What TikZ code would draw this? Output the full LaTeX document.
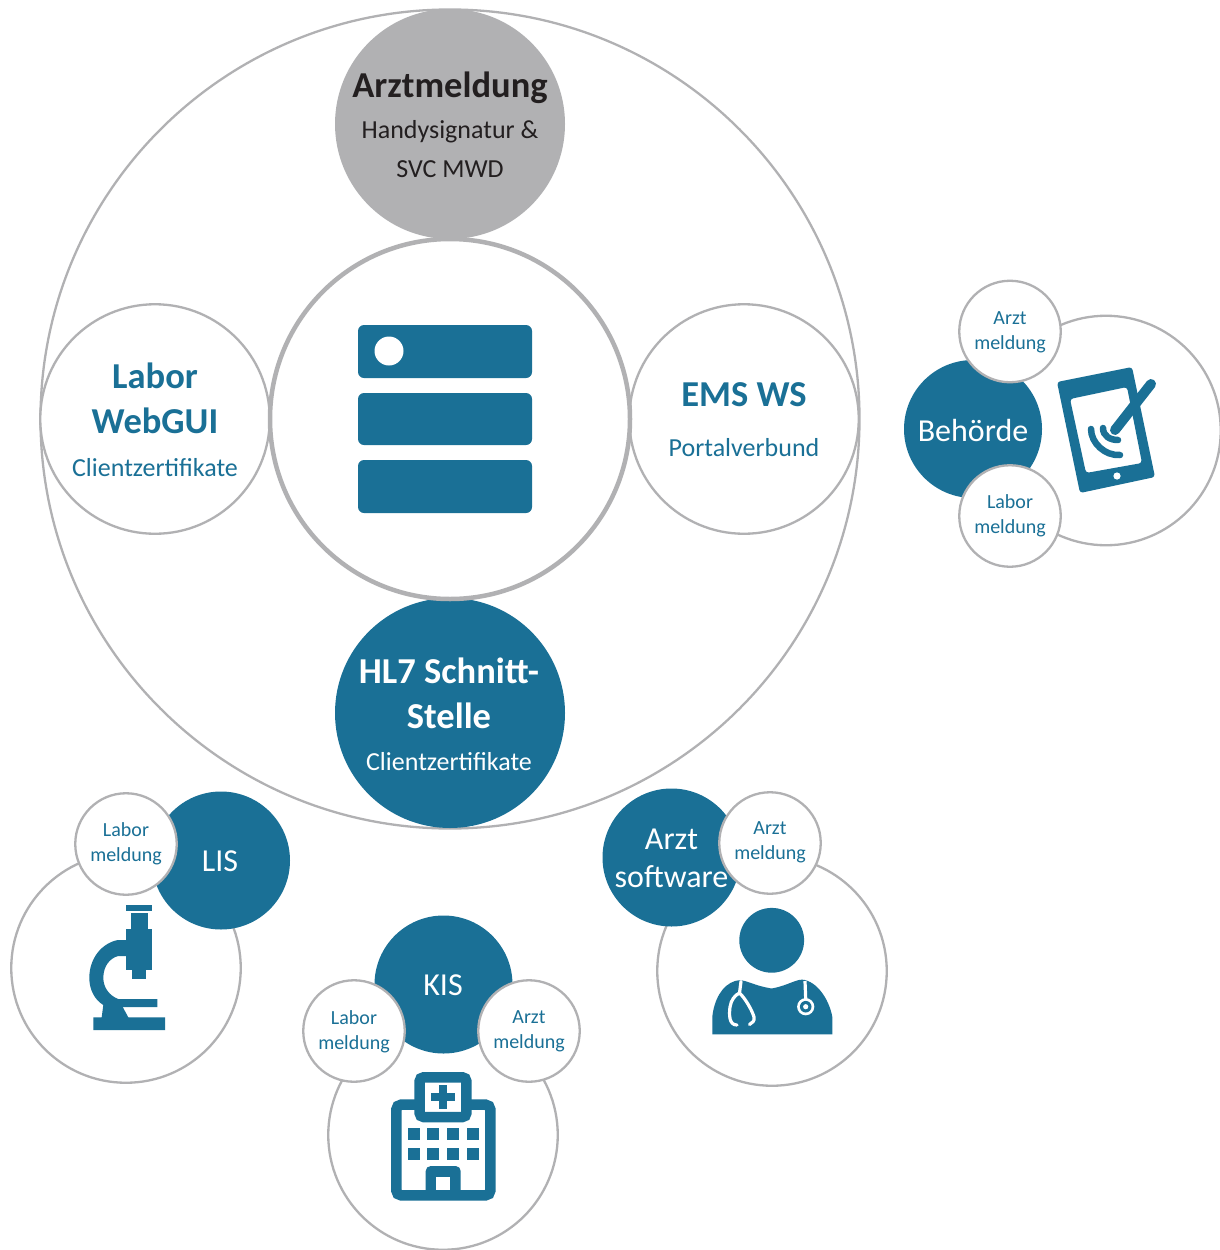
\documentclass[tikz,border=0pt]{standalone}
\usepackage{fontspec}
\setmainfont{Carlito}
\definecolor{teal1}{HTML}{1A7096}
\definecolor{gray1}{HTML}{B1B1B3}
\definecolor{ink}{HTML}{231F20}
\tikzset{
  big/.style={circle,draw=gray1,line width=2.3pt,fill=white,inner sep=0pt,minimum size=229.5pt},
  solid1/.style={circle,fill=teal1,inner sep=0pt,minimum size=138pt},
  small/.style={circle,draw=gray1,line width=2.3pt,fill=white,inner sep=0pt,minimum size=101.5pt},
  tag/.style={text=teal1,font=\fontsize{20}{25}\selectfont,align=center,inner sep=0pt},
  head/.style={font=\bfseries\fontsize{36.5}{45}\selectfont,align=center,inner sep=0pt},
  sub/.style={font=\fontsize{26}{39}\selectfont,align=center,inner sep=0pt},
  lbl/.style={text=white,font=\fontsize{32}{38}\selectfont,align=center,inner sep=0pt},
  icon/.style={fill=teal1,draw=none},
  srv/.style={fill=teal1,draw=none,rounded corners=6pt},
}
\begin{document}
\begin{tikzpicture}[x=1pt,y=-1pt]
\useasboundingbox (0,0) rectangle (1219,1250);
% main group
\node[big,minimum size=819pt] (outer) at (450,419) {};
\node[circle,fill=gray1,inner sep=0pt,minimum size=230pt] (top) at (450,124) {};
\node[big] (left) at (155,419) {};
\node[big] (right) at (744,419) {};
\node[circle,fill=teal1,inner sep=0pt,minimum size=230pt] (bottom) at (450,713) {};
\node[circle,draw=gray1,line width=4.5pt,fill=white,inner sep=0pt,minimum size=360pt] (center) at (450,419) {};
\node[head,text=ink] (t1) at (450,88) {Arztmeldung};
\node[sub,text=ink] (t2) at (450,149) {Handysignatur \&\\SVC MWD};
\node[head,text=teal1] (t3) at (155,398.5) {Labor\\WebGUI};
\node[sub,text=teal1] (t4) at (155,467.5) {Clientzertifikate};
\node[head,text=teal1] (t5) at (744,395) {EMS WS};
\node[sub,text=teal1] (t6) at (744,447.5) {Portalverbund};
\node[head,text=white] (t7) at (449,693.5) {HL7 Schnitt-\\Stelle};
\node[sub,text=white] (t8) at (449,761.5) {Clientzertifikate};
% server
\fill[srv] (358,325) rectangle (532,378);
\fill[srv] (358,393) rectangle (532,445);
\fill[srv] (358,460) rectangle (532,513);
\fill[white] (389,351) circle (14.5);
% Behoerde
\node[big] (bcirc) at (1106,430.5) {};
\node[solid1] (bsolid) at (973,429) {};
\node[lbl] (bt) at (973,430.5) {Behörde};
\node[small] (ba) at (1010,331.5) {};
\node[small] (bl) at (1010,516) {};
\node[tag] at (1010,332.5) (bat) {Arzt\\meldung};
\node[tag] at (1010,516) (blt) {Labor\\meldung};
\fill[icon,rounded corners=3pt,even odd rule] (1057,382) -- (1132,367) -- (1155,477) -- (1080,493) -- cycle
  (1070,399) -- (1127,387) -- (1142,463) -- (1086,473) -- cycle;
\fill[white] (1117,476) circle (3.6);
\draw[teal1,line width=10pt,line cap=round] (1151,384) -- (1115,430);
\draw[teal1,line width=6.5pt,line cap=round] (1103,428) .. controls (1103,436) and (1110,440) .. (1118,440);
\draw[teal1,line width=6.5pt,line cap=round] (1091,429) .. controls (1091,443) and (1105,456) .. (1120,455);
% LIS
\node[big] (lcirc) at (126,968) {};
\node[solid1] (lsolid) at (221,860.5) {};
\node[lbl] (lt) at (220,861.5) {LIS};
\node[small] (ll) at (126,844) {};
\node[tag] at (126,844) (llt) {Labor\\meldung};
\fill[icon] (126,905) rectangle (152,911);
\fill[icon] (130.7,913.3) rectangle (147.7,929.3);
\fill[icon] (126.3,929.3) rectangle (152,970);
\fill[icon] (132.3,970) rectangle (146.3,979.3);
\fill[icon] (126.5,940) -- (118,940) .. controls (102,943) and (89.3,958) .. (89.3,978)
  .. controls (89.3,990) and (95,1000) .. (103.3,1005) -- (101.7,1017.3) -- (93.3,1017.3) -- (93.3,1030)
  -- (165,1030) -- (165,1017.3) -- (128.3,1017.3) -- (122.7,1007) -- (157.3,1007) -- (157.3,999)
  -- (118.3,999) .. controls (110,996) and (103.3,988) .. (103.3,978) .. controls (103.3,966) and (110,958) .. (118.3,956)
  -- (126.5,956) -- cycle;
% KIS
\node[big] (kcirc) at (443,1135) {};
\node[solid1] (ksolid) at (443.5,984.5) {};
\node[lbl] (kt) at (443,985.5) {KIS};
\node[small] (kl) at (354,1031) {};
\node[small] (ka) at (529,1031) {};
\node[tag] at (354,1031.5) (klt) {Labor\\meldung};
\node[tag] at (529,1031) (kat) {Arzt\\meldung};
\draw[teal1,line width=10.5pt,rounded corners=5pt] (396.3,1104.6) rectangle (490.4,1195.4);
\draw[teal1,line width=10.5pt,fill=white,rounded corners=4pt] (419.6,1077.3) rectangle (466.4,1117);
\fill[icon] (431.3,1092.7) rectangle (455.3,1100.7);
\fill[icon] (439.3,1085.3) rectangle (447.3,1108.7);
\foreach \wx in {408,427,447,467}\foreach \wy in {1128,1148}{\fill[icon] (\wx,\wy) rectangle +(12,12);}
\fill[icon,rounded corners=5pt] (425.7,1197) -- (425.7,1166) -- (460.7,1166) -- (460.7,1197) -- cycle;
\fill[white] (436.3,1176.7) rectangle (450.3,1190);
% Arzt
\node[big] (acirc) at (772,971) {};
\node[solid1] (asolid) at (671.5,857.5) {};
\node[lbl] (at) at (671.5,858.5) {Arzt\\software};
\node[small] (aa) at (770,843) {};
\node[tag] at (770,842.5) (aat) {Arzt\\meldung};
\fill[teal1] (771.7,940.3) circle (32.4);
\fill[icon] (712.3,1034.3) -- (712.3,1017) .. controls (714,1000) and (722,985) .. (735,981)
  .. controls (745,978) and (750,985) .. (771.7,988.5) .. controls (790,985) and (797,978) .. (805,980)
  .. controls (820,984) and (830,1003) .. (832.3,1017) -- (832.3,1034.3) -- cycle;
\draw[white,line width=3.2pt,line cap=round] (741,981.5) -- (739.5,993);
\draw[white,line width=3.2pt,line cap=round] (737,1025) .. controls (729,1025) and (729,1015) .. (730,1007) .. controls (731,1000) and (735,995) .. (739.5,993) .. controls (745,998) and (752,1010) .. (754,1017) .. controls (755,1021) and (752,1023) .. (749.5,1024.5);
\draw[white,line width=3.2pt] (805,981) -- (805.7,999);
\fill[white] (805.7,1006.7) circle (8.6);
\fill[teal1] (805.7,1006.7) circle (5.8);
\fill[white] (805.7,1006.7) circle (2.6);
\end{tikzpicture}
\end{document}
